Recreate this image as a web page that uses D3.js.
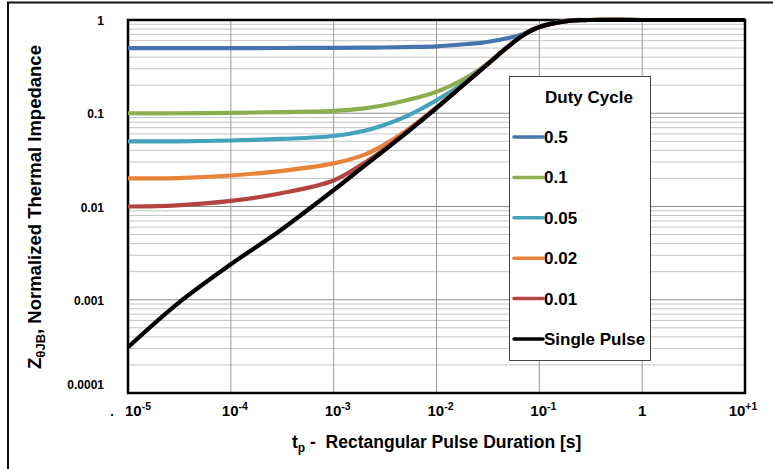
<!DOCTYPE html>
<html>
<head>
<meta charset="utf-8">
<script src="https://cdn.jsdelivr.net/npm/d3@7"></script>
<style>
  body { margin: 0; background: #fff; }
  svg { display: block; font-family: "Liberation Sans", Arial, sans-serif; font-weight: bold; }
</style>
</head>
<body>
<div id="chart"></div>
<script>
var tValues = [1e-5, 3e-5, 1e-4, 3e-4, 1e-3, 2e-3, 3e-3, 5e-3, 1e-2, 2e-2, 3e-2, 5e-2, 0.07, 0.1, 0.2, 0.3, 1, 10];

var duty05  = [0.5, 0.5, 0.5, 0.501, 0.503, 0.505, 0.507, 0.512, 0.522, 0.553, 0.577, 0.64, 0.71, 0.85, 0.99, 1, 1, 1];
var duty01  = [0.1, 0.1, 0.101, 0.103, 0.106, 0.113, 0.121, 0.137, 0.17, 0.245, 0.33, 0.525, 0.693, 0.842, 0.987, 1, 1, 1];
var duty005 = [0.05, 0.05, 0.051, 0.053, 0.057, 0.065, 0.074, 0.092, 0.138, 0.225, 0.323, 0.522, 0.692, 0.841, 0.986, 1, 1, 1];
var duty002 = [0.02, 0.0202, 0.0215, 0.024, 0.029, 0.036, 0.045, 0.064, 0.116, 0.22, 0.322, 0.521, 0.691, 0.841, 0.986, 1, 1, 1];
var duty001 = [0.01, 0.0103, 0.0115, 0.0138, 0.019, 0.0295, 0.040, 0.062, 0.115, 0.22, 0.322, 0.521, 0.691, 0.841, 0.986, 1, 1, 1];
var single  = [3.1e-4, 9.0e-4, 2.4e-3, 5.5e-3, 0.015, 0.0274, 0.0389, 0.0605, 0.1135, 0.219, 0.321, 0.52, 0.69, 0.84, 0.985, 1, 1, 1];

var seriesNames = ["0.5", "0.1", "0.05", "0.02", "0.01", "Single Pulse"];
var seriesValues = [duty05, duty01, duty005, duty002, duty001, single];
var seriesColors = ["#4674ad", "#8cae4f", "#45a2bb", "#e8843a", "#b4443f", "#000000"];

var xTickValues = [1e-5, 1e-4, 1e-3, 1e-2, 1e-1, 1, 10];
var xTickBase = ["10", "10", "10", "10", "10", "1", "10"];
var xTickExp = ["-5", "-4", "-3", "-2", "-1", "", "+1"];
var yTickValues = [1, 0.1, 0.01, 0.001, 0.0001];
var yTickLabels = ["1", "0.1", "0.01", "0.001", "0.0001"];

var width = 773, height = 469;
var margin = { left: 128, right: 745, top: 20, bottom: 393 };

var svg = d3.select("#chart").append("svg")
    .attr("width", width)
    .attr("height", height);

// outer frame (right/bottom run off the picture)
svg.append("rect")
    .attr("x", 8).attr("y", 2.5)
    .attr("width", 800).attr("height", 500)
    .attr("fill", "none")
    .attr("stroke", "#111")
    .attr("stroke-width", 2);

var x = d3.scaleLog().domain([1e-5, 10]).range([margin.left, margin.right]);
var y = d3.scaleLog().domain([1e-4, 1]).range([margin.bottom, margin.top]);

// minor horizontal grid
var minorY = [];
[1e-4, 1e-3, 1e-2, 1e-1].forEach(function (d) {
  for (var k = 2; k <= 9; k++) minorY.push(d * k);
});

var grid = svg.append("g");
grid.selectAll("line.minor")
    .data(minorY)
    .enter().append("line")
    .attr("class", "minor")
    .attr("x1", margin.left).attr("x2", margin.right)
    .attr("y1", function (d) { return y(d); })
    .attr("y2", function (d) { return y(d); })
    .attr("stroke", "#c4c4c4")
    .attr("stroke-width", 1);

grid.selectAll("line.majorY")
    .data(yTickValues)
    .enter().append("line")
    .attr("class", "majorY")
    .attr("x1", margin.left).attr("x2", margin.right)
    .attr("y1", function (d) { return y(d); })
    .attr("y2", function (d) { return y(d); })
    .attr("stroke", "#8c8c8c")
    .attr("stroke-width", 1);

grid.selectAll("line.majorX")
    .data(xTickValues)
    .enter().append("line")
    .attr("class", "majorX")
    .attr("x1", function (d) { return x(d); })
    .attr("x2", function (d) { return x(d); })
    .attr("y1", margin.top).attr("y2", margin.bottom)
    .attr("stroke", "#9a9a9a")
    .attr("stroke-width", 1);

// plot frame
svg.append("rect")
    .attr("x", margin.left).attr("y", margin.top)
    .attr("width", margin.right - margin.left)
    .attr("height", margin.bottom - margin.top)
    .attr("fill", "none")
    .attr("stroke", "#000")
    .attr("stroke-width", 2.5);

// curves
var line = d3.line()
    .x(function (d) { return x(d[0]); })
    .y(function (d) { return y(d[1]); })
    .curve(d3.curveCatmullRom.alpha(0.5));

svg.append("g").selectAll("path")
    .data(seriesValues)
    .enter().append("path")
    .attr("d", function (vals) {
      return line(vals.map(function (v, i) { return [tValues[i], v]; }));
    })
    .attr("fill", "none")
    .attr("stroke", function (d, i) { return seriesColors[i]; })
    .attr("stroke-width", 4.2)
    .attr("stroke-linejoin", "round");

// y tick labels
svg.append("g").selectAll("text")
    .data(yTickValues)
    .enter().append("text")
    .attr("x", 104)
    .attr("y", function (d, i) { return y(d) + (i === yTickValues.length - 1 ? -8 : 1); })
    .attr("dy", "0.35em")
    .attr("text-anchor", "end")
    .attr("font-size", 12)
    .text(function (d, i) { return yTickLabels[i]; });

// x tick labels with superscripts
var xt = svg.append("g").selectAll("text")
    .data(xTickValues)
    .enter().append("text")
    .attr("x", function (d, i) {
      if (i === 0) return x(d) + 10;
      if (i === xTickValues.length - 1) return x(d) - 2;
      if (xTickExp[i] === "") return x(d);
      return x(d) + 4;
    })
    .attr("y", 416)
    .attr("text-anchor", "middle")
    .attr("font-size", 15);
xt.append("tspan").text(function (d, i) { return xTickBase[i]; });
xt.append("tspan")
    .attr("dy", -6)
    .attr("font-size", 10.5)
    .text(function (d, i) { return xTickExp[i]; });

svg.append("text")
    .attr("x", 112).attr("y", 416)
    .attr("text-anchor", "middle")
    .attr("font-size", 13)
    .text(".");

// x axis title
var xTitle = svg.append("text")
    .attr("x", 292).attr("y", 448)
    .attr("font-size", 17.5);
xTitle.append("tspan").text("t");
xTitle.append("tspan").attr("dy", 4).attr("font-size", 12).text("p");
xTitle.append("tspan").attr("dy", -4).attr("xml:space", "preserve").text(" -  Rectangular Pulse Duration [s]");

// y axis title
var yTitle = svg.append("text")
    .attr("transform", "translate(41,207) rotate(-90)")
    .attr("text-anchor", "middle")
    .attr("font-size", 18.5);
yTitle.append("tspan").text("Z");
yTitle.append("tspan").attr("dy", 4).attr("font-size", 13).text("θJB");
yTitle.append("tspan").attr("dy", -4).text(", Normalized Thermal Impedance");

// legend
var legend = svg.append("g");
legend.append("rect")
    .attr("x", 509.5).attr("y", 76.5)
    .attr("width", 141).attr("height", 284)
    .attr("fill", "#fff")
    .attr("stroke", "#444")
    .attr("stroke-width", 1);
legend.append("text")
    .attr("x", 545).attr("y", 103)
    .attr("font-size", 17)
    .text("Duty Cycle");

var items = legend.selectAll("g.item")
    .data(seriesNames)
    .enter().append("g")
    .attr("class", "item")
    .attr("transform", function (d, i) { return "translate(0," + (137 + i * 40.4) + ")"; });
items.append("line")
    .attr("x1", 514).attr("x2", 543)
    .attr("stroke", function (d, i) { return seriesColors[i]; })
    .attr("stroke-width", 3.5)
    .attr("stroke-linecap", "round");
items.append("text")
    .attr("x", 544).attr("y", 6)
    .attr("font-size", 17)
    .text(function (d) { return d; });
</script>
</body>
</html>
